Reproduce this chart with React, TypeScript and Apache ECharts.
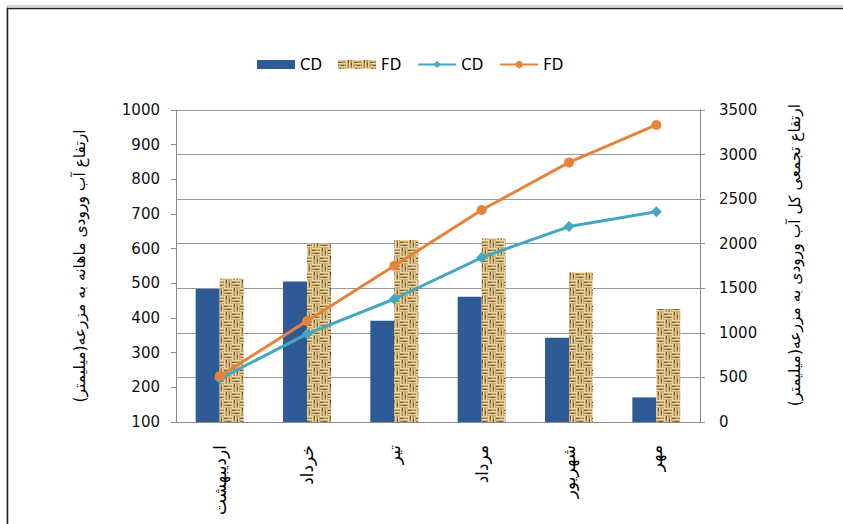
import React, { useEffect, useRef } from "react";
import * as echarts from "echarts";

const months = ["اردیبهشت", "خرداد", "تیر", "مرداد", "شهریور", "مهر"];
const cdMonthly = [484, 505, 392, 461, 343, 171];
const fdMonthly = [514, 615, 625, 630, 531, 426];
const cdCumulative = [484, 988, 1380, 1845, 2192, 2358];
const fdCumulative = [514, 1133, 1753, 2378, 2912, 3332];
const leftTitle = "ارتفاع آب ورودی ماهانه به مزرعه(میلیمتر)";
const rightTitle = "ارتفاع تجمعی کل آب ورودی به مزرعه(میلیمتر)";

const FONT = "DejaVu Sans";

function makeBurlap(): HTMLCanvasElement {
  const S = 16;
  const c = document.createElement("canvas");
  c.width = S;
  c.height = S;
  const g = c.getContext("2d")!;
  g.fillStyle = "#a8864a";
  g.fillRect(0, 0, S, S);
  const B = 8;
  for (let by = 0; by < 2; by++) {
    for (let bx = 0; bx < 2; bx++) {
      const x0 = bx * B;
      const y0 = by * B;
      const horiz = (bx + by) % 2 === 0;
      for (let k = 0; k < 3; k++) {
        const off = k * 3;
        g.fillStyle = "#e8d6a8";
        if (horiz) g.fillRect(x0, y0 + off, B, 1);
        else g.fillRect(x0 + off, y0, 1, B);
        g.fillStyle = "#cbae74";
        if (horiz) g.fillRect(x0, y0 + off + 1, B, 1);
        else g.fillRect(x0 + off + 1, y0, 1, B);
        g.fillStyle = "#735224";
        if (horiz) g.fillRect(x0 + (k * 3) % B, y0 + off + 2, 3, 1);
        else g.fillRect(x0 + off + 2, y0 + (k * 3) % B, 1, 3);
      }
    }
  }
  return c;
}

export default function App() {
  const ref = useRef<HTMLDivElement>(null);
  useEffect(() => {
    if (!ref.current) return;
    const chart = echarts.init(ref.current, null, { renderer: "svg" });
    const burlap = makeBurlap();
    const pattern: any = {
      image: burlap,
      repeat: "repeat",
      imageWidth: 16,
      imageHeight: 16,
    };
    const axisLineStyle = { color: "#8c8c8c", width: 1 };
    chart.setOption({
      animation: false,
      backgroundColor: "#fff",
      textStyle: { fontFamily: FONT },
      graphic: [
        {
          type: "rect",
          shape: { x: 7, y: 6, width: 900, height: 600 },
          style: { fill: "none", stroke: "#aaa", lineWidth: 1 },
          silent: true,
        },
        {
          type: "rect",
          shape: { x: 7.5, y: 8.5, width: 900, height: 600 },
          style: { fill: "none", stroke: "#222", lineWidth: 1.5 },
          silent: true,
        },
      ],
      legend: {
        top: 52,
        left: 252,
        itemWidth: 38,
        itemHeight: 9,
        itemGap: 16,
        textStyle: { fontSize: 15, color: "#000", fontFamily: FONT },
        formatter: (n: string) => n.split("_")[0],
        data: [
          { name: "CD_bar", icon: "rect" },
          { name: "FD_bar", icon: "rect" },
          { name: "CD_line" },
          { name: "FD_line" },
        ],
      },
      grid: { left: 176, right: 143, top: 110, bottom: 102 },
      xAxis: {
        type: "category",
        data: months,
        axisLine: { lineStyle: axisLineStyle },
        axisTick: { show: false },
        axisLabel: {
          rotate: 90,
          margin: 23,
          fontSize: 17,
          color: "#000",
          fontFamily: FONT,
        },
      },
      yAxis: [
        {
          type: "value",
          min: 100,
          max: 1000,
          interval: 100,
          position: "left",
          name: leftTitle,
          nameLocation: "middle",
          nameRotate: 90,
          nameGap: 88,
          nameTextStyle: {
            fontSize: 15.5,
            color: "#000",
            fontFamily: FONT,
          },
          axisLine: { show: true, lineStyle: axisLineStyle },
          axisTick: { show: true, length: 5, lineStyle: axisLineStyle },
          splitLine: { show: false },
          axisLabel: {
            fontSize: 15,
            color: "#111",
            margin: 16,
            fontFamily: FONT,
            formatter: (v: number) => String(v),
          },
        },
        {
          type: "value",
          min: 0,
          max: 3500,
          interval: 500,
          position: "right",
          name: rightTitle,
          nameLocation: "middle",
          nameRotate: 90,
          nameGap: 87,
          nameTextStyle: {
            fontSize: 15.5,
            color: "#000",
            fontFamily: FONT,
            padding: [0, 0, 0, 22],
          },
          axisLine: { show: true, lineStyle: axisLineStyle },
          axisTick: { show: true, length: 5, lineStyle: axisLineStyle },
          splitLine: { show: true, lineStyle: { color: "#9a9a9a", width: 1 } },
          axisLabel: {
            fontSize: 15,
            color: "#111",
            margin: 19,
            fontFamily: FONT,
            formatter: (v: number) => String(v),
          },
        },
      ],
      series: [
        {
          name: "CD_bar",
          type: "bar",
          yAxisIndex: 0,
          data: cdMonthly,
          barWidth: 24,
          barGap: "0%",
          itemStyle: { color: "#2e5a95" },
        },
        {
          name: "FD_bar",
          type: "bar",
          yAxisIndex: 0,
          data: fdMonthly,
          barWidth: 24,
          barGap: "0%",
          itemStyle: { color: pattern },
        },
        {
          name: "CD_line",
          type: "line",
          yAxisIndex: 1,
          data: cdCumulative,
          symbol: "diamond",
          symbolSize: 11,
          lineStyle: { color: "#45a6c2", width: 3 },
          itemStyle: { color: "#45a6c2" },
        },
        {
          name: "FD_line",
          type: "line",
          yAxisIndex: 1,
          data: fdCumulative,
          symbol: "circle",
          symbolSize: 10,
          lineStyle: { color: "#e8823a", width: 3 },
          itemStyle: { color: "#e8823a" },
        },
      ],
    });
    return () => chart.dispose();
  }, []);
  return (
    <div
      ref={ref}
      style={{ position: "fixed", left: 0, top: 0, width: 843, height: 524 }}
    />
  );
}
